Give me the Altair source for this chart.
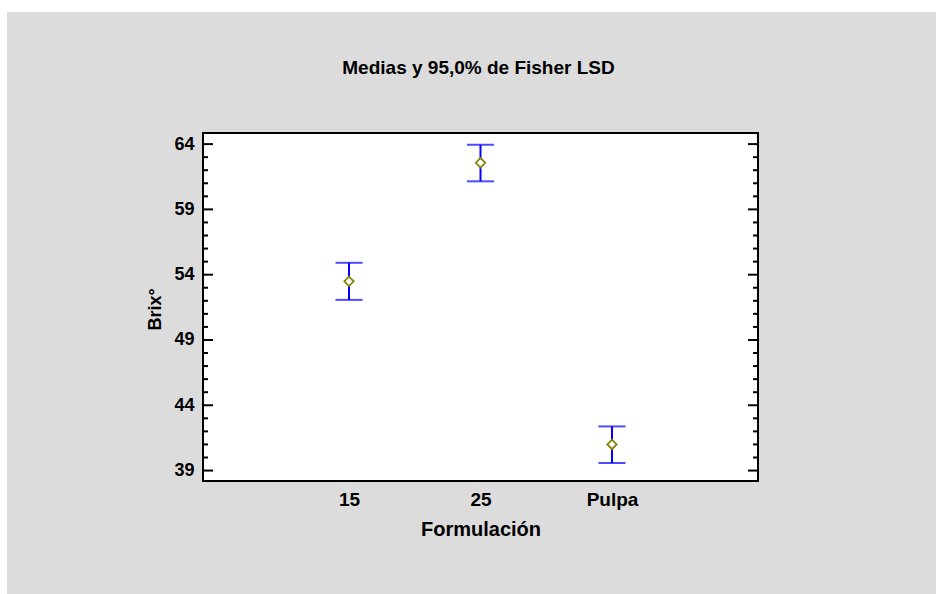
import altair as alt
import pandas as pd

# ---- data ----
categories = ["15", "25", "Pulpa"]
means = [53.49, 62.57, 41.0]
lower = [52.07, 61.15, 39.58]
upper = [54.91, 63.95, 42.38]
major_ticks = [39, 44, 49, 54, 59, 64]
minor_ticks = [40, 41, 42, 43, 45, 46, 47, 48, 50, 51, 52, 53,
               55, 56, 57, 58, 60, 61, 62, 63]
title_text = "Medias y 95,0% de Fisher LSD"

W, H = 555, 348
FONT = "Liberation Sans"
BLUE = "#0000FF"
OLIVE = "#808000"
GRAY = "#DCDCDC"

df = pd.DataFrame({"cat": categories, "mean": means, "lo": lower, "hi": upper})
major_df = pd.DataFrame({"v": major_ticks})
minor_df = pd.DataFrame({"v": minor_ticks})

yscale = alt.Scale(domain=[38.2, 64.85], nice=False, zero=False)
xscale = alt.Scale(type="point", domain=categories, range=[146, 409], padding=0)

yaxis = alt.Axis(
    values=major_ticks, title="Brix°", ticks=False, tickSize=0, domain=False,
    grid=False, labelFont=FONT, labelFontSize=18, labelFontWeight="bold",
    labelColor="black", labelPadding=9, labelBaseline="middle",
    titleFont=FONT, titleFontSize=18, titleFontWeight="bold", titleColor="black",
    titleX=-43, titleY=176, titleAngle=270, titleAlign="center",
    titleBaseline="alphabetic", zindex=1,
)
xaxis = alt.Axis(
    title="Formulación", labelAngle=0, ticks=False, tickSize=0, domain=False,
    grid=False, labelFont=FONT, labelFontSize=19, labelFontWeight="bold",
    labelColor="black", labelPadding=9,
    titleFont=FONT, titleFontSize=20, titleFontWeight="bold", titleColor="black",
    titleY=54, titleBaseline="alphabetic", zindex=1,
)

one = alt.Data(values=[{}])

# gray page background with white margin on top/left
bg = alt.Chart(one).mark_rect(fill=GRAY, strokeWidth=0).encode(
    x=alt.value(-196), x2=alt.value(W + 178), y=alt.value(-121), y2=alt.value(H + 113)
)
# white plot area with black frame
frame = alt.Chart(one).mark_rect(fill="white", stroke="black", strokeWidth=2).encode(
    x=alt.value(0), x2=alt.value(W), y=alt.value(0), y2=alt.value(H)
)
# chart title
title = alt.Chart(alt.Data(values=[{"t": title_text}])).mark_text(
    font=FONT, fontSize=19, fontWeight="bold", color="black",
    align="center", baseline="alphabetic",
).encode(x=alt.value(W / 2 - 2), y=alt.value(-59), text="t:N")

Yv = alt.Y("v:Q", scale=yscale, axis=yaxis)
maj_l = alt.Chart(major_df).mark_rule(color="black", strokeWidth=2).encode(
    y=Yv, x=alt.value(0), x2=alt.value(10))
maj_r = alt.Chart(major_df).mark_rule(color="black", strokeWidth=2).encode(
    y=Yv, x=alt.value(W - 10), x2=alt.value(W))
min_l = alt.Chart(minor_df).mark_rule(color="black", strokeWidth=2).encode(
    y=Yv, x=alt.value(0), x2=alt.value(5))
min_r = alt.Chart(minor_df).mark_rule(color="black", strokeWidth=2).encode(
    y=Yv, x=alt.value(W - 5), x2=alt.value(W))

X = alt.X("cat:N", scale=xscale, axis=xaxis, sort=categories)

bars = alt.Chart(df).mark_rule(color=BLUE, strokeWidth=2).encode(
    x=X, y=alt.Y("lo:Q", scale=yscale, axis=yaxis), y2="hi:Q")
cap_lo = alt.Chart(df).mark_tick(color=BLUE, thickness=2, size=27).encode(
    x=X, y=alt.Y("lo:Q", scale=yscale, axis=yaxis))
cap_hi = alt.Chart(df).mark_tick(color=BLUE, thickness=2, size=27).encode(
    x=X, y=alt.Y("hi:Q", scale=yscale, axis=yaxis))
pts = alt.Chart(df).mark_point(shape="diamond", filled=False, fill="white",
                               fillOpacity=1, stroke=OLIVE, strokeWidth=1.7,
                               size=90, opacity=1).encode(
    x=X, y=alt.Y("mean:Q", scale=yscale, axis=yaxis))

chart = alt.layer(
    bg, frame, title, maj_l, maj_r, min_l, min_r, bars, cap_lo, cap_hi, pts
).properties(
    width=W, height=H,
    padding={"left": 203, "top": 133, "right": 178, "bottom": 113},
    autosize=alt.AutoSizeParams(type="none"),
    background="white",
).configure_view(strokeWidth=0)

chart.save("out.html", embed_options={"renderer": "svg", "actions": False})
